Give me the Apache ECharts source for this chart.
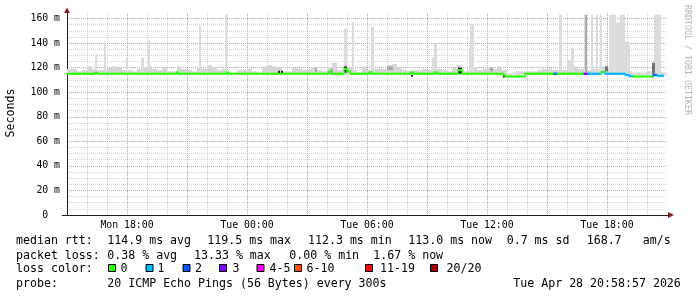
<!DOCTYPE html>
<html><head><meta charset="utf-8">
<script src="https://cdn.jsdelivr.net/npm/echarts@6/dist/echarts.min.js"></script>
<style>html,body{margin:0;padding:0;background:#fff}#c{width:697px;height:297px}</style>
</head><body><div id="c"></div>
<script>
// ---------- DATA ----------
// time in hours since Mon 00:00
const X_MIN = 15, X_MAX = 45;
const xTickLabels = {18:'Mon 18:00', 24:'Tue 00:00', 30:'Tue 06:00', 36:'Tue 12:00', 42:'Tue 18:00'};
const yTickValues = [0, 20, 40, 60, 80, 100, 120, 140, 160]; // ms
const Y_TOP = 164.48;
const yAxisName = 'Seconds';

// light smoke top (ms), one value per quarter hour starting at 15:00
const smokeStart = 15, smokeStep = 0.25;
const smokeTop = [
 119,119,117,118,121,119,118,118,120,121,
 120,118,118,117,119,120,121,119,118,120,
 117,117,121,119,118,117,120,119,122,120,
 118,119,117,116,118,118,119,117,116,121,
 122,121,120,117,117,120,119,118,119,120,
 118,117,120,124,118,119,120,118,116,121,
 118,119,119,119,122,123,120,118,117,118,
 118,119,118,118,119,118,117,120,122,117,
 118,120,118,119,120,119,121,118,115,116,
 117,117,117,117,118,119,120,118,118,118,
 126,121,119,119,118,119,119,121,120,120,
 120,120,117,116,116,116,117,118,117,116
];
const smokeBottom = 114.5;

// smoke spikes: [startHour, endHour, maxRtt]
const smokeSpikes = [
 [16.40,16.50,131],[16.85,16.95,141],[17.95,18.05,128],[18.70,18.85,128],
 [19.05,19.15,142],[21.60,21.70,153],[22.90,23.00,163],[28.85,29.00,151.5],
 [29.25,29.35,157],[30.20,30.35,153],[33.25,33.35,128],[33.35,33.50,140],
 [35.10,35.15,136],[35.15,35.35,155.5],[39.60,39.75,163],[40.05,40.20,126],
 [40.20,40.35,136],[40.85,41.00,163],[41.20,41.30,163],[41.45,41.55,163],
 [41.65,41.75,163],[42.10,42.45,163],[42.45,42.65,157],[42.65,42.90,163],
 [42.90,43.15,141],[44.35,44.60,163],[44.60,44.70,163]
];

// dense smoke: [startHour, endHour, low, high, density 1..3]
const denseSmoke = [
 [25.55,25.65,115.5,117.5,3],[25.70,25.80,115.5,117.5,3],[27.40,27.50,116,120,1],
 [28.15,28.30,116,119,1],[28.85,29.00,116,121,3],[31.00,31.30,118,121,1],
 [32.20,32.30,112.5,114,3],[34.55,34.75,115,120,3],[36.15,36.30,117,120,1],
 [36.80,36.90,112,114,3],[40.90,41.00,116,163,1],[41.90,42.05,117,121,2],
 [44.25,44.40,115,124,2]
];

// median rtt: [startHour, endHour, medianMs, lossBucket]
const medianSegs = [
 [15.00,16.40,115,0],[16.40,16.50,115.8,0],[16.50,20.45,115,0],[20.45,20.55,116,0],
 [20.55,22.95,115,0],[22.95,23.05,116,0],[23.05,28.05,115,0],[28.05,28.20,116.5,0],
 [28.20,28.85,115,0],[28.85,29.00,119,0],[29.00,29.15,117,0],[29.15,30.10,115,0],
 [30.10,30.25,116,0],[30.25,32.15,115,0],[32.15,32.30,116,0],[32.30,33.35,115,0],
 [33.35,33.50,116,0],[33.50,34.55,115,0],[34.55,34.75,118,0],[34.75,36.80,115,0],
 [36.80,36.90,114,0],[36.90,37.90,112.8,0],[37.90,39.35,115,0],[39.35,39.50,115,2],
 [39.50,40.85,115,0],[40.85,41.05,115,3],[41.05,41.70,115,1],[41.70,41.90,116.5,0],
 [41.90,42.90,115,1],[42.90,43.10,114,1],[43.10,43.30,113,1],[43.30,44.30,112.8,0],
 [44.30,44.50,114,2],[44.50,44.85,113.3,1]
];

const lossLabels = ['0','1','2','3','4-5','6-10','11-19','20/20'];
const lossColors = ['#26ff00','#00b8ff','#0059ff','#7e00ff','#ff00ff','#ff5500','#ff0000','#a10000'];

const rttRow = ['median rtt:','114.9 ms avg','119.5 ms max','112.3 ms min','113.0 ms now','0.7 ms sd','168.7','am/s'];
const lossRow = ['packet loss:','0.38 % avg','13.33 % max','0.00 % min','1.67 % now'];
const colorRowTitle = 'loss color:';
const probeRow = ['probe:','20 ICMP Echo Pings (56 Bytes) every 300s','Tue Apr 28 20:58:57 2026'];
const watermark = 'RRDTOOL / TOBI OETIKER';

// ---------- STYLE ----------
const MONO = 'DejaVu Sans Mono';
const GRID_C = 'rgba(150,150,150,0.42)';
const MGRID_C = 'rgba(222,79,79,0.62)';
const AXIS_C = '#1f1f1f';
const ARROW_C = '#7f1f1f';
const densityColors = {1:'#a8a8a8', 2:'#707070', 3:'#202020'};

// build render tables
const smokeData = smokeTop.map((t, i) => [smokeStart + i*smokeStep, smokeStart + (i+1)*smokeStep, smokeBottom, t]);
const spikeData = smokeSpikes.map(s => [s[0], s[1], smokeBottom, s[2]]);
const medianData = medianSegs.map((s, i) => [s[0], s[1], s[2], s[3], i > 0 ? medianSegs[i-1][2] : s[2]]);

function rectFrom(api, h0, h1, lo, hi) {
  const a = api.coord([h0, hi]), b = api.coord([h1, lo]);
  return {x: a[0], y: a[1], width: b[0]-a[0], height: b[1]-a[1]};
}

const chart = echarts.init(document.getElementById('c'), null, {renderer:'canvas'});

const textEls = [];
function txt(s, x, y, size) {
  textEls.push({type:'text', x:x, y:y, silent:true,
    style:{text:s, font: size + 'px "' + MONO + '"', fill:'#000', align:'left', verticalAlign:'middle',
      textAlign:'left', textVerticalAlign:'middle'}});
}
const FS = 11.6;
const rttX = [16,107.3,207.3,308,408.3,506.7,586.7,642.7];
rttRow.forEach((s,i)=>txt(s, rttX[i], 241, FS));
const lossX = [16,107.3,194,289.3,373.3];
lossRow.forEach((s,i)=>txt(s, lossX[i], 255.5, FS));
txt(colorRowTitle, 16, 269, FS);
const sqX = [108,145.5,182.5,219,256.5,294,365,430];
const lbX = [120.5,157.5,195,232.5,269.5,306.5,380,446.5];
lossLabels.forEach((s,i)=>{
  textEls.push({type:'rect', silent:true, shape:{x:sqX[i]+0.5, y:264.5, width:7, height:7},
    style:{fill:lossColors[i], stroke:'#000', lineWidth:1}});
  txt(s, lbX[i], 269, FS);
});
const probeX = [16,107.3,513.3];
probeRow.forEach((s,i)=>txt(s, probeX[i], 283.5, FS));
// y axis name
textEls.push({type:'text', x:11, y:113, rotation:Math.PI/2, silent:true,
  style:{text:yAxisName, font: FS+'px "'+MONO+'"', fill:'#000', align:'center', verticalAlign:'middle', textAlign:'center', textVerticalAlign:'middle'}});
// watermark
textEls.push({type:'text', x:687.5, y:60, rotation:-Math.PI/2, silent:true,
  style:{text:watermark, font:'8.3px "'+MONO+'"', fill:'#b4b4b4', align:'center', verticalAlign:'middle', textAlign:'center', textVerticalAlign:'middle'}});
// arrows & axis extension
textEls.push({type:'polygon', silent:true, shape:{points:[[64,13],[70,13],[67,7.5]]}, style:{fill:ARROW_C}});
textEls.push({type:'polygon', silent:true, shape:{points:[[668,212],[668,218],[674,215]]}, style:{fill:ARROW_C}});
textEls.push({type:'line', silent:true, shape:{x1:62,y1:215.5,x2:67,y2:215.5}, style:{stroke:AXIS_C, lineWidth:1}});
textEls.push({type:'line', silent:true, shape:{x1:667,y1:215.5,x2:669,y2:215.5}, style:{stroke:AXIS_C, lineWidth:1}});

const option = {
  animation:false,
  backgroundColor:'#ffffff',
  grid:{left:67, right:30, top:13, bottom:82, containLabel:false},
  xAxis:{type:'value', min:X_MIN, max:X_MAX, interval:3,
    axisLine:{show:true, onZero:false, lineStyle:{color:AXIS_C, width:1}},
    axisTick:{show:false},
    axisLabel:{fontFamily:MONO, fontSize:9.8, color:'#000', margin:5,
      formatter: v => xTickLabels[Math.round(v)] && Math.abs(v-Math.round(v))<1e-6 ? xTickLabels[Math.round(v)] : ''},
    splitLine:{show:true, showMinLine:false, showMaxLine:false, lineStyle:{color:MGRID_C, width:1, type:[1,1]}},
    minorTick:{show:false, splitNumber:3},
    minorSplitLine:{show:true, lineStyle:{color:GRID_C, width:1, type:[1,1]}}
  },
  yAxis:{type:'value', min:0, max:Y_TOP, interval:20,
    axisLine:{show:true, onZero:false, lineStyle:{color:AXIS_C, width:1}},
    axisTick:{show:false},
    axisLabel:{fontFamily:MONO, fontSize:9.8, color:'#000', margin:7,
      formatter: v => yTickValues.indexOf(v) < 0 ? '' : (v === 0 ? '0  ' : v + ' m')},
    splitLine:{show:true, showMinLine:false, showMaxLine:false, lineStyle:{color:MGRID_C, width:1, type:[1,1]}},
    minorTick:{show:false, splitNumber:4},
    minorSplitLine:{show:true, lineStyle:{color:GRID_C, width:1, type:[1,1]}}
  },
  series:[
    {type:'custom', name:'smoke', data:smokeData, encode:{x:[0,1], y:[2,3]}, clip:false,
     renderItem:(p, api)=>({type:'rect', shape:rectFrom(api, api.value(0), api.value(1), api.value(2), api.value(3)),
       style:{fill:'#d6d6d6'}})},
    {type:'custom', name:'spikes', data:spikeData, encode:{x:[0,1], y:[2,3]}, clip:false,
     renderItem:(p, api)=>({type:'rect', shape:rectFrom(api, api.value(0), api.value(1), api.value(2), api.value(3)),
       style:{fill:'#dcdcdc'}})},
    {type:'custom', name:'dense', data:denseSmoke, encode:{x:[0,1], y:[2,3]}, clip:false,
     renderItem:(p, api)=>({type:'rect', shape:rectFrom(api, api.value(0), api.value(1), api.value(2), api.value(3)),
       style:{fill:densityColors[api.value(4)]}})},
    {type:'custom', name:'median', data:medianData, encode:{x:[0,1], y:2}, clip:false,
     renderItem:(p, api)=>{
       const a = api.coord([api.value(0), api.value(2)]);
       const b = api.coord([api.value(1), api.value(2)]);
       const pv = api.coord([api.value(0), api.value(4)]);
       const col = lossColors[api.value(3)];
       const top = Math.min(a[1], pv[1]) - 1, bot = Math.max(a[1], pv[1]) + 1;
       return {type:'group', children:[
         {type:'rect', shape:{x:a[0], y:a[1]-1.1, width:b[0]-a[0], height:2.2}, style:{fill:col}},
         {type:'rect', shape:{x:a[0]-0.5, y:top, width:1.2, height:bot-top}, style:{fill:col}}
       ]};
     }}
  ],
  graphic: textEls
};
chart.setOption(option);
</script>
</body></html>
